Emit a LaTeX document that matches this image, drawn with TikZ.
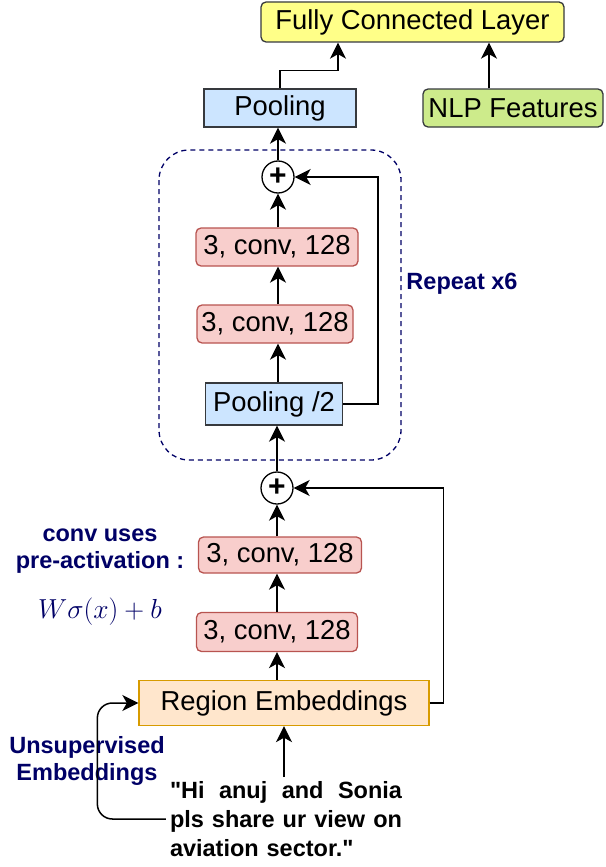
\RequirePackage{fix-cm}
\documentclass[tikz,border=0pt]{standalone}
\usepackage{fontspec}
\setmainfont{Liberation Sans}
\newfontfamily\plainsans{Liberation Sans}[Ligatures=TeXOff]
\usetikzlibrary{arrows.meta}

\definecolor{navy}{RGB}{0,0,102}
\definecolor{darkline}{RGB}{54,57,61}
\definecolor{fcfill}{RGB}{255,255,136}
\definecolor{poolfill}{RGB}{204,229,255}
\definecolor{nlpfill}{RGB}{205,235,139}
\definecolor{convfill}{RGB}{248,206,204}
\definecolor{convline}{RGB}{184,84,80}
\definecolor{embfill}{RGB}{255,230,204}
\definecolor{embline}{RGB}{215,155,0}

\tikzset{
  box/.style={draw=darkline, line width=1.3pt, inner sep=0pt, minimum height=38pt,
    font=\fontsize{27.4}{30}\selectfont},
  rbox/.style={box, rounded corners=5pt},
  convbox/.style={rbox, draw=convline, fill=convfill},
  sumnode/.style={draw, circle, line width=1.3pt, minimum size=32pt, inner sep=0pt,
    font=\fontsize{30}{30}\selectfont\bfseries},
  note/.style={text=navy, font=\fontsize{23.5}{27}\selectfont\bfseries, align=center},
  arr/.style={line width=1.5pt, -{Stealth[length=16pt,width=16pt,inset=4.5pt]}},
}

\begin{document}
\begin{tikzpicture}[x=1pt, y=-1pt]
  \useasboundingbox (0,0) rectangle (605,867);

  % top of the network
  \node[rbox, fill=fcfill, minimum width=303pt, minimum height=40pt] (fc) at (412.5,22) {Fully Connected Layer};
  \node[box, fill=poolfill, minimum width=152pt] (pool) at (280,108) {Pooling};
  \node[rbox, fill=nlpfill, minimum width=180pt] (nlp) at (513,108) {NLP Features};

  % repeated block
  \draw[navy, dashed, dash pattern=on 5pt off 4pt, line width=1.3pt, rounded corners=30pt]
    (159,150) rectangle (401,460);
  \node[sumnode] (sumA) at (278,177) {+};
  \node[convbox, minimum width=162pt] (convA) at (277,247) {3, conv, 128};
  \node[convbox, minimum width=156pt] (convB) at (275,324) {3, conv, 128};
  \node[box, fill=poolfill, minimum width=137pt, minimum height=42pt] (poolB) at (274,404) {Pooling /2};
  \node[note] (rep) at (462,284) {Repeat x6};

  % first block
  \node[sumnode] (sumB) at (277,488) {+};
  \node[convbox, minimum width=163pt, minimum height=36pt] (convC) at (280,555) {3, conv, 128};
  \node[convbox, minimum width=161pt, minimum height=39pt] (convD) at (277,632) {3, conv, 128};
  \node[box, draw=embline, fill=embfill, minimum width=290pt, minimum height=45pt] (emb) at (284,703) {Region Embeddings};

  \node[note] (pre) at (100,551) {conv uses\\pre-activation :};
  \node[text=navy, font=\fontsize{27.5}{30}\selectfont] (eq) at (100,612) {$W\sigma(x)+b$};
  \node[note] (unsup) at (87,761) {Unsupervised\\Embeddings};

  \node[font=\plainsans\fontsize{23.5}{29}\selectfont\bfseries, text width=232pt, align=left, inner sep=0pt] (quote) at (286,819)
    {\makebox[232pt][l]{"Hi\hfill anuj\hfill and\hfill Sonia}\\\makebox[232pt][l]{pls\hfill share\hfill ur\hfill view\hfill on}\\aviation sector."};

  % connectors
  \draw[arr] (pool.north) -- ++(0,-18) -| ([xshift=-74.5pt]fc.south);
  \draw[arr] (nlp.north -| 489,0) -- (fc.south -| 489,0);
  \draw[arr] (sumA.north) -- (sumA.north |- pool.south);
  \draw[arr] (convA.north -| sumA) -- (sumA.south);
  \draw[arr] (convB.north -| sumA) -- (convA.south -| sumA);
  \draw[arr] (poolB.north -| sumA) -- (convB.south -| sumA);
  \draw[arr] (poolB.east) -- ++(35,0) |- (sumA.east);
  \draw[arr, line width=2pt] (sumB.north) -- (sumB.north |- poolB.south);
  \draw[arr] (convC.north -| sumB) -- (sumB.south);
  \draw[arr] (convD.north -| sumB) -- (convC.south -| sumB);
  \draw[arr] (emb.north -| sumB) -- (convD.south -| sumB);
  \draw[arr] (emb.east) -- ++(14,0) |- (sumB.east);
  \draw[arr] ([yshift=4pt]quote.north -| emb) -- (emb.south);
  \draw[arr, rounded corners=15pt] ([xshift=-4pt]quote.west) -| ([xshift=-41pt]emb.west) -- (emb.west);
\end{tikzpicture}
\end{document}
